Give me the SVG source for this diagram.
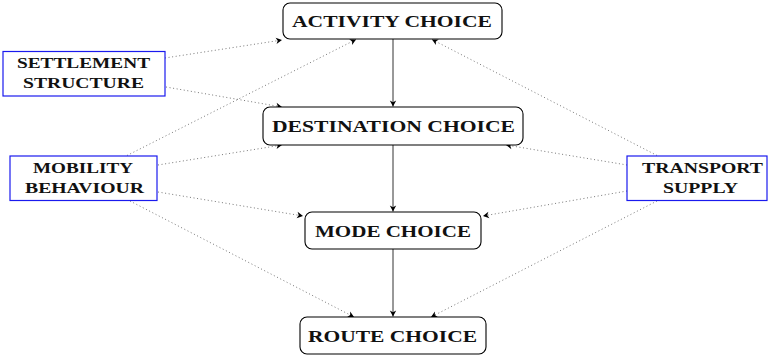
<svg xmlns="http://www.w3.org/2000/svg" width="768" height="355" viewBox="0 0 768 355">
<style>
  .main rect { fill: #fff; stroke: #000; stroke-width: 1.1; }
  .side rect { fill: #fff; stroke: #1a1aee; stroke-width: 1.2; }
  text { font-family: "Liberation Serif", "Times New Roman", serif; font-weight: bold; fill: #111; text-anchor: middle; }
  .main text { font-size: 16.5px; }
  .side text { font-size: 14.5px; }
  .solid { stroke: #333; stroke-width: 1; fill: none; marker-end: url(#ah); }
  .dot { stroke: #777; stroke-width: 1; stroke-dasharray: 1 2.6; fill: none; marker-end: url(#ah); }
</style>
<defs>
  <marker id="ah" markerUnits="userSpaceOnUse" markerWidth="10" markerHeight="10" viewBox="-8 -5 10 10" refX="0" refY="0" orient="auto">
    <path d="M0,0 L-6,-3.2 L-4.3,0 L-6,3.2 Z" fill="#000"/>
  </marker>
</defs>
<rect width="768" height="355" fill="#fff"/>
<g id="connectors">
  <line class="solid" x1="393" y1="39" x2="393" y2="106.5"/>
  <line class="solid" x1="393" y1="145" x2="393" y2="211.5"/>
  <line class="solid" x1="393" y1="249" x2="393" y2="316.5"/>
  <line class="dot" x1="165" y1="58" x2="282" y2="40"/>
  <line class="dot" x1="166" y1="87" x2="282" y2="107"/>
  <line class="dot" x1="127" y1="155.5" x2="356" y2="39.5"/>
  <line class="dot" x1="158" y1="165" x2="282" y2="145"/>
  <line class="dot" x1="158" y1="192" x2="303" y2="216"/>
  <line class="dot" x1="130" y1="201" x2="354" y2="317"/>
  <line class="dot" x1="657" y1="155.5" x2="432" y2="39.5"/>
  <line class="dot" x1="627" y1="165" x2="506" y2="145"/>
  <line class="dot" x1="627" y1="191" x2="483" y2="216"/>
  <line class="dot" x1="657" y1="201" x2="431" y2="317"/>
</g>
<g id="activity" class="main">
  <rect x="283" y="3" width="219" height="36" rx="7"/>
  <text x="392" y="26.5" textLength="200" lengthAdjust="spacingAndGlyphs">ACTIVITY CHOICE</text>
</g>
<g id="destination" class="main">
  <rect x="263" y="107" width="260" height="38" rx="7"/>
  <text x="393.5" y="131.5" textLength="243" lengthAdjust="spacingAndGlyphs">DESTINATION CHOICE</text>
</g>
<g id="mode" class="main">
  <rect x="305" y="212" width="176" height="37" rx="7"/>
  <text x="393" y="236.5" textLength="156" lengthAdjust="spacingAndGlyphs">MODE CHOICE</text>
</g>
<g id="route" class="main">
  <rect x="300" y="317" width="186" height="37" rx="7"/>
  <text x="392.5" y="341.5" textLength="169" lengthAdjust="spacingAndGlyphs">ROUTE CHOICE</text>
</g>
<g id="settlement" class="side">
  <rect x="3" y="51.5" width="162" height="44.5"/>
  <text x="83.5" y="67.5" textLength="133" lengthAdjust="spacingAndGlyphs">SETTLEMENT</text>
  <text x="83.5" y="87.5" textLength="121" lengthAdjust="spacingAndGlyphs">STRUCTURE</text>
</g>
<g id="mobility" class="side">
  <rect x="10" y="156" width="147" height="44.5"/>
  <text x="83" y="172.5" textLength="100" lengthAdjust="spacingAndGlyphs">MOBILITY</text>
  <text x="84.5" y="192.5" textLength="119" lengthAdjust="spacingAndGlyphs">BEHAVIOUR</text>
</g>
<g id="transport" class="side">
  <rect x="627" y="156" width="140" height="44.5"/>
  <text x="702.5" y="172.5" textLength="121" lengthAdjust="spacingAndGlyphs">TRANSPORT</text>
  <text x="700.5" y="192.5" textLength="75" lengthAdjust="spacingAndGlyphs">SUPPLY</text>
</g>
</svg>
